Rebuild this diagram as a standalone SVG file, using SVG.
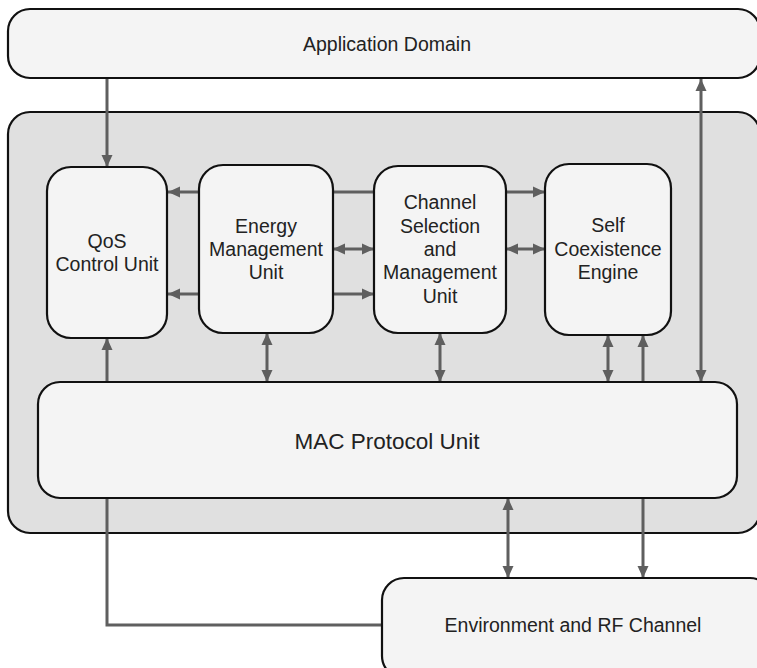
<svg xmlns="http://www.w3.org/2000/svg" width="757" height="668" viewBox="0 0 757 668">
<style>
.node{fill:#f4f4f4;stroke:#111;stroke-width:2.2}
.cont{fill:#e0e0e0;stroke:#111;stroke-width:2.2}
.c{fill:none;stroke:#5f5f5f;stroke-width:3}
.a{marker-end:url(#ah)}
.b{marker-start:url(#ah);marker-end:url(#ah)}
text{font-family:"Liberation Sans",Arial,sans-serif;font-size:19.5px;fill:#222;text-anchor:middle}
</style>
<defs>
<marker id="ah" markerUnits="userSpaceOnUse" markerWidth="12" markerHeight="12" refX="12" refY="6" orient="auto-start-reverse" viewBox="0 0 12 12">
<path d="M0,0.5 L12,6 L0,11.5 z" fill="#5f5f5f"/>
</marker>
</defs>
<rect id="container" class="cont" x="8" y="112" width="752" height="421" rx="22"/>
<g id="connectors">
<path class="c a" d="M107,79 V167"/>
<path class="c b" d="M701,79 V382"/>
<path class="c a" d="M199,192 H168"/>
<path class="c a" d="M199,294 H168"/>
<path class="c" d="M333,192 H374"/>
<path class="c b" d="M333,249 H374"/>
<path class="c a" d="M333,294 H374"/>
<path class="c a" d="M506,192 H545"/>
<path class="c b" d="M506,249 H545"/>
<path class="c a" d="M107,382 V338"/>
<path class="c b" d="M267,333 V382"/>
<path class="c b" d="M440,333 V382"/>
<path class="c b" d="M608,335 V382"/>
<path class="c a" d="M643,382 V335"/>
<path class="c b" d="M508,498 V578"/>
<path class="c a" d="M643,498 V578"/>
<path class="c" d="M107,498 V625 H382"/>
</g>
<g id="app">
<rect class="node" x="8" y="9" width="752" height="69" rx="22"/>
<text x="387" y="51">Application Domain</text>
</g>
<g id="qos">
<rect class="node" x="47" y="167" width="120" height="171" rx="24"/>
<text x="107" y="248">QoS</text>
<text x="107" y="271">Control Unit</text>
</g>
<g id="energy">
<rect class="node" x="199" y="165" width="134" height="168" rx="24"/>
<text x="266" y="233">Energy</text>
<text x="266" y="256">Management</text>
<text x="266" y="279">Unit</text>
</g>
<g id="channel">
<rect class="node" x="374" y="166" width="132" height="167" rx="24"/>
<text x="440" y="209">Channel</text>
<text x="440" y="233">Selection</text>
<text x="440" y="256">and</text>
<text x="440" y="279">Management</text>
<text x="440" y="303">Unit</text>
</g>
<g id="self">
<rect class="node" x="545" y="164" width="126" height="171" rx="24"/>
<text x="608" y="232">Self</text>
<text x="608" y="256">Coexistence</text>
<text x="608" y="279">Engine</text>
</g>
<g id="mac">
<rect class="node" x="38" y="382" width="699" height="116" rx="22"/>
<text x="387" y="449" style="font-size:22.5px">MAC Protocol Unit</text>
</g>
<g id="env">
<rect class="node" x="382" y="578" width="390" height="100" rx="22"/>
<text x="573" y="632">Environment and RF Channel</text>
</g>
</svg>
